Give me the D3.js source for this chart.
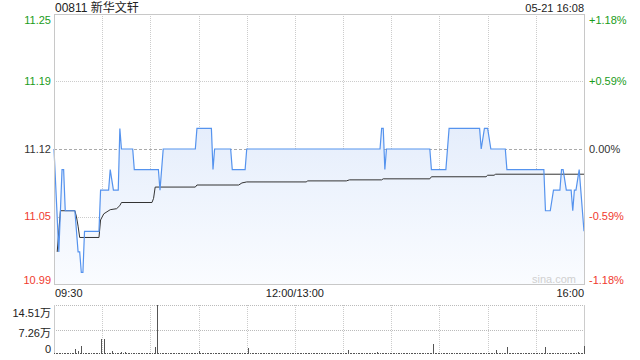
<!DOCTYPE html>
<html>
<head>
<meta charset="utf-8">
<script src="https://cdn.jsdelivr.net/npm/d3@7"></script>
<style>
  html, body { margin: 0; padding: 0; background: #fff; }
  svg { display: block; font-family: "Liberation Sans", Arial, "Noto Sans CJK SC", sans-serif; }
</style>
</head>
<body>
<svg id="chart" width="640" height="360"></svg>
<script>
// header
const stockTitle = "00811 新华文轩";
const stampText = "05-21 16:08";

// price axis
const preClose = 11.12;
const priceTicks = ["11.25", "11.19", "11.12", "11.05", "10.99"];
const pctTicks = ["+1.18%", "+0.59%", "0.00%", "-0.59%", "-1.18%"];
const pctValues = [1.18, 0.59, 0, -0.59, -1.18];

// time axis
const timeTicks = ["09:30", "12:00/13:00", "16:00"];
const timeTickAt = ["09:30", "12:00", "16:00"];
const gridTimes = ["10:00", "10:30", "11:00", "11:30", "12:00", "13:30", "14:00", "14:30", "15:00", "15:30"];

// price line (time, price)
const priceTimes = ["09:30","09:33","09:35","09:36","09:37","09:43","09:44","09:45","09:46","09:47",
  "09:48","09:49","09:58","09:59","10:04","10:05","10:07","10:10","10:11","10:12",
  "10:19","10:20","10:35","10:36","10:38","10:58","10:59","11:08","11:09","11:10",
  "11:20","11:21","11:29","11:30","13:53","13:54","13:55","13:56","13:57","14:24",
  "14:25","14:34","14:36","14:55","14:56","14:58","15:00","15:02","15:11","15:12",
  "15:35","15:36","15:39","15:41","15:45","15:46","15:47","15:49","15:52","15:53",
  "15:54","15:55","15:57","15:58","16:00"];
const priceValues = [11.12,11.02,11.10,11.10,11.06,11.06,11.04,11.02,11.02,11.00,
  11.00,11.04,11.04,11.08,11.08,11.10,11.08,11.08,11.14,11.12,
  11.12,11.10,11.10,11.08,11.12,11.12,11.14,11.14,11.10,11.12,
  11.12,11.10,11.10,11.12,11.12,11.14,11.14,11.10,11.12,11.12,
  11.10,11.10,11.14,11.14,11.12,11.14,11.14,11.12,11.12,11.10,
  11.10,11.06,11.06,11.08,11.08,11.10,11.10,11.08,11.08,11.06,
  11.08,11.08,11.10,11.08,11.04];

// average price line
const avgTimes = ["09:32","09:34","09:43","09:44","09:45","09:46","09:58","09:59","10:01","10:05","10:09",
  "10:11","10:12","10:31","10:32","10:33","10:58","10:59","11:25","11:27","11:30",
  "13:07","13:08","13:32","13:34","13:54","13:55","14:24","14:25","14:59","15:00",
  "15:04","15:05","16:00"];
const avgValues = [11.020,11.060,11.060,11.054,11.045,11.034,11.034,11.051,11.057,11.061,11.062,
  11.065,11.068,11.068,11.072,11.083,11.083,11.085,11.085,11.087,11.088,
  11.088,11.089,11.089,11.090,11.090,11.091,11.091,11.093,11.093,11.0945,
  11.0945,11.0955,11.0955];

// volume per minute from 09:30 (unit: 万)
const volMax = 14.51;
const volTicks = ["14.51万", "7.26万", "0"];
const volumes = [
  0.3,0.3,0.2,0.3,0.3,0.2,0.3,0.3,0.2,0.3, 0.3,0.2,0.3,1.5,0.3,1.0,0.3,2.4,0.3,0.2, 0.4,0.3,0.2,0.3,0.3,0.2,0.3,0.3,0.2,4.4,
  0.3,4.4,0.3,0.2,0.3,0.3,1.0,0.3,0.2,0.3, 0.3,0.2,0.7,0.3,0.5,0.3,0.2,0.3,0.3,0.2, 0.3,0.3,0.2,0.3,0.3,0.2,0.3,0.3,0.2,0.3,
  0.3,0.2,0.3,2.1,14.51,0.3,0.2,0.3,0.3,0.2, 0.3,0.3,0.2,0.3,0.3,0.2,0.3,0.3,0.2,0.3, 0.3,0.2,0.3,0.3,0.2,0.3,0.3,0.2,0.3,0.3,
  1.0,0.3,0.2,0.3,0.3,0.2,0.3,0.3,0.2,0.3, 0.3,0.2,0.3,0.3,0.2,0.3,0.3,0.2,0.3,0.3, 0.2,0.3,0.3,0.2,0.3,0.3,0.2,0.3,0.3,0.2,
  0.3,1.8,0.3,0.2,0.3,0.3,0.2,0.3,0.3,0.2, 0.3,0.3,0.2,0.3,0.3,0.2,0.3,0.3,0.2,0.3, 0.3,0.2,0.3,0.3,0.2,0.3,0.3,0.2,0.3,0.3,
  0.2,0.3,0.3,0.2,0.3,0.3,0.2,0.3,0.3,0.2, 0.3,0.3,0.2,0.3,0.3,0.2,0.3,0.3,0.2,0.3, 0.3,0.2,0.3,0.3,0.2,0.3,0.3,0.2,0.3,0.3,
  0.3,0.2,0.3,1.2,0.3,0.2,0.3,0.3,0.2,0.3, 0.3,0.2,0.3,0.3,0.2,0.3,0.3,0.2,0.3,0.3, 0.2,0.5,0.3,0.2,0.3,0.3,0.2,0.3,0.3,0.2,
  0.3,0.3,0.2,0.3,0.3,0.2,0.3,0.3,0.2,0.3, 0.3,0.2,0.3,0.3,0.2,0.3,0.3,0.2,0.3,0.3, 0.2,0.3,0.3,0.2,0.3,0.3,3.1,0.3,0.2,0.3,
  0.3,0.2,0.3,0.3,0.2,0.3,0.3,0.2,0.3,0.3, 0.2,0.3,0.3,0.2,0.3,0.3,0.2,0.3,0.3,0.2, 0.3,0.3,0.2,0.3,0.3,0.2,0.3,0.3,0.2,0.3,
  0.3,0.2,0.3,0.3,0.2,1.1,0.3,0.2,0.3,0.3, 0.2,0.3,2.1,0.3,0.2,0.3,0.3,0.2,0.3,0.3, 0.2,0.3,0.3,0.2,0.3,0.3,0.2,0.3,0.3,0.2,
  0.3,0.3,0.2,0.3,0.3,0.2,2.1,0.3,0.2,0.3, 0.3,0.2,0.3,0.3,0.2,0.3,0.3,0.2,0.3,0.3, 0.2,0.3,0.3,0.2,0.3,0.3,0.5,0.3,0.2,0.3,
  2.4
];

// colours
const upColor = "#1a9c1a";
const downColor = "#f03a2e";
const flatColor = "#333";
const lineColor = "#5593ee";

// layout
const L = 54, R = 584, T = 14, B = 284;
const VT = 305, VB = 354;
const TOTAL_MIN = 330;

// minutes since open, lunch break removed
function toMin(t) {
  const [h, m] = t.split(":").map(Number);
  const mins = h * 60 + m;
  if (mins <= 12 * 60) return mins - (9 * 60 + 30);
  return 150 + mins - 13 * 60;
}

const svg = d3.select("#chart");

const x = d3.scaleLinear().domain([0, TOTAL_MIN]).range([L, R]);
const yMin = preClose * (1 - 0.0118), yMax = preClose * (1 + 0.0118);
const y = d3.scaleLinear().domain([yMin, yMax]).range([B, T]);
const yv = d3.scaleLinear().domain([0, volMax]).range([VB, VT]);

const priceData = priceTimes.map((t, i) => ({ m: toMin(t), v: priceValues[i] }));
const avgData = avgTimes.map((t, i) => ({ m: toMin(t), v: avgValues[i] }));

// gradient for the area
const defs = svg.append("defs");
const grad = defs.append("linearGradient")
  .attr("id", "areaGrad").attr("gradientUnits", "userSpaceOnUse")
  .attr("x1", 0).attr("y1", T).attr("x2", 0).attr("y2", B);
grad.append("stop").attr("offset", "0%").attr("stop-color", "#d6e3f9");
grad.append("stop").attr("offset", "100%").attr("stop-color", "#fafcff");

// header text
svg.append("text").attr("x", 55).attr("y", 12)
  .attr("font-size", 12).attr("fill", "#222").text(stockTitle);
svg.append("text").attr("x", R).attr("y", 12).attr("text-anchor", "end")
  .attr("font-size", 11).attr("fill", "#222").text(stampText);

// vertical grid
const gridG = svg.append("g");
gridTimes.forEach(t => {
  const gx = Math.round(x(toMin(t))) + 0.5;
  gridG.append("line").attr("x1", gx).attr("x2", gx).attr("y1", T).attr("y2", B)
    .attr("stroke", "#ccc").attr("stroke-dasharray", "1,1");
  gridG.append("line").attr("x1", gx).attr("x2", gx).attr("y1", VT).attr("y2", VB)
    .attr("stroke", "#ccc").attr("stroke-dasharray", "1,1");
});

// horizontal grid
pctValues.forEach((p, i) => {
  if (i === 0 || i === pctValues.length - 1) return;
  const gy = Math.round(y(preClose * (1 + p / 100))) + 0.5;
  gridG.append("line").attr("x1", L).attr("x2", R).attr("y1", gy).attr("y2", gy)
    .attr("stroke", p === 0 ? "#aaa" : "#ccc")
    .attr("stroke-dasharray", p === 0 ? "3,2" : "1,1");
});

// area + lines
svg.append("path").datum(priceData)
  .attr("fill", "url(#areaGrad)")
  .attr("d", d3.area().x(d => x(d.m)).y0(B).y1(d => y(d.v)));

svg.append("path").datum(avgData)
  .attr("fill", "none").attr("stroke", "#333").attr("stroke-width", 1)
  .attr("d", d3.line().x(d => x(d.m)).y(d => y(d.v)));

svg.append("path").datum(priceData)
  .attr("fill", "none").attr("stroke", lineColor).attr("stroke-width", 1.2)
  .attr("d", d3.line().x(d => x(d.m)).y(d => y(d.v)));

// frame of price panel
svg.append("rect").attr("x", L + 0.5).attr("y", T + 0.5)
  .attr("width", R - L).attr("height", B - T)
  .attr("fill", "none").attr("stroke", "#c8c8c8");

// watermark
svg.append("text").attr("x", 576).attr("y", 283).attr("text-anchor", "end")
  .attr("font-size", 11).attr("fill", "#d0d0d0").text("sina.com");

// price labels (left) and percent labels (right)
function labelColor(p) { return p > 0 ? upColor : (p < 0 ? downColor : flatColor); }
pctValues.forEach((p, i) => {
  let ly = y(preClose * (1 + p / 100));
  ly = Math.max(T + 6, Math.min(B - 4, ly));
  svg.append("text").attr("x", 51).attr("y", ly).attr("dy", "0.35em")
    .attr("text-anchor", "end").attr("font-size", 11).attr("fill", labelColor(p))
    .text(priceTicks[i]);
  svg.append("text").attr("x", 589).attr("y", ly).attr("dy", "0.35em")
    .attr("font-size", 11).attr("fill", labelColor(p))
    .text(pctTicks[i]);
});

// time labels
const anchors = ["start", "middle", "end"];
timeTicks.forEach((t, i) => {
  let tx = x(toMin(timeTickAt[i]));
  if (i === 0) tx += 1;
  svg.append("text").attr("x", tx).attr("y", 297).attr("text-anchor", anchors[i])
    .attr("font-size", 11).attr("fill", "#222").text(t);
});

// volume panel
const vg = svg.append("g");
vg.append("line").attr("x1", L).attr("x2", R).attr("y1", VT + 0.5).attr("y2", VT + 0.5)
  .attr("stroke", "#bbb").attr("stroke-dasharray", "1,1");
vg.append("line").attr("x1", L).attr("x2", R)
  .attr("y1", Math.round(yv(volMax / 2)) + 0.5).attr("y2", Math.round(yv(volMax / 2)) + 0.5)
  .attr("stroke", "#bbb").attr("stroke-dasharray", "1,1");
vg.append("line").attr("x1", L + 0.5).attr("x2", L + 0.5).attr("y1", VT).attr("y2", VB)
  .attr("stroke", "#ccc");
vg.append("line").attr("x1", R + 0.5).attr("x2", R + 0.5).attr("y1", VT).attr("y2", VB)
  .attr("stroke", "#ccc");

vg.selectAll("rect.vol").data(volumes).join("rect")
  .attr("class", "vol")
  .attr("x", (d, i) => Math.round(x(i)))
  .attr("width", 1)
  .attr("y", d => yv(d))
  .attr("height", d => VB - yv(d))
  .attr("fill", "#555")
  .attr("shape-rendering", "crispEdges");

const volLabelY = [317, 337, 353];
volTicks.forEach((t, i) => {
  svg.append("text").attr("x", 51).attr("y", volLabelY[i]).attr("text-anchor", "end")
    .attr("font-size", 11).attr("fill", "#222").text(t);
});
</script>
</body>
</html>
